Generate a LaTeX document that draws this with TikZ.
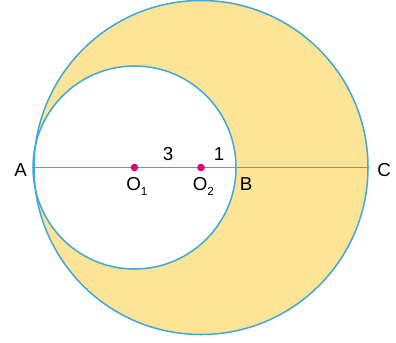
\documentclass[tikz,border=0pt]{standalone}
\usepackage{fontspec}
\setmainfont{Liberation Sans}
\usetikzlibrary{positioning}
\definecolor{LineBlue}{RGB}{66,168,216}
\definecolor{MoonYellow}{RGB}{253,228,150}
\definecolor{DotPink}{RGB}{228,0,124}
\newcommand{\lowsub}[1]{\raisebox{-4pt}{\fontsize{10}{10}\selectfont #1}}

\begin{document}
\begin{tikzpicture}[x=0.03cm,y=-0.03cm,
    circline/.style={draw=LineBlue,line width=1.3pt},
    dot/.style={circle,fill=DotPink,inner sep=0pt,minimum size=6.5pt},
    lbl/.style={font=\fontsize{16}{18}\selectfont,inner sep=1pt}]
    \useasboundingbox (0,0) rectangle (396,343);
    \coordinate (O2) at (201,167.5);
    \coordinate (O1) at (134.5,167.5);
    \coordinate (A) at (33,167.5);
    \coordinate (B) at (236,167.5);
    \coordinate (C) at (369,167.5);
    \coordinate (m3) at (168,167.5);
    \coordinate (m1) at (219,167.5);
    \fill[MoonYellow] (O2) circle (167);
    \fill[white] (O1) circle (101.5);
    \draw[circline] (O2) circle (167);
    \draw[circline] (O1) circle (101.5);
    \draw[circline] (A) -- (C);
    \node[dot] (d1) at (O1) {};
    \node[dot] (d2) at (O2) {};
    \node[lbl,left=4pt of A,yshift=-2.5pt] (la) {A};
    \node[lbl,right=6pt of C,yshift=-2.5pt] (lc) {C};
    \node[lbl,below right=7pt and 2pt of B] (lb) {B};
    \node[lbl,below=4pt of d1,xshift=2pt] (lo1) {O\lowsub{1}};
    \node[lbl,below=4pt of d2,xshift=2pt] (lo2) {O\lowsub{2}};
    \node[lbl,above=5pt of m3] (l3) {3};
    \node[lbl,above=5pt of m1] (l1) {1};
\end{tikzpicture}
\end{document}
